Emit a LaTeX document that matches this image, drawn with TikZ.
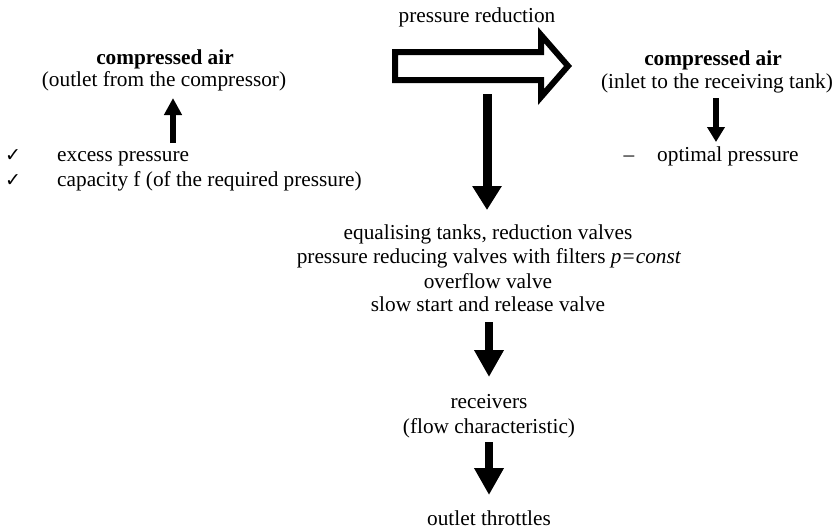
\documentclass[tikz,border=0pt]{standalone}
\usepackage{fontspec}
\setmainfont{Liberation Serif}
\newfontfamily\symfont{DejaVu Sans}
\usetikzlibrary{arrows.meta}
\begin{document}
\begin{tikzpicture}[x=1pt,y=-1pt,
  txt/.style={anchor=base,inner sep=0pt,font=\fontsize{21.3}{24}\selectfont},
  ltxt/.style={txt,anchor=base west},
  blk/.style={line width=#1,draw=black},
  hollow/.style={draw=black,line width=6pt,miter limit=10,fill=white}]
\useasboundingbox (0,0) rectangle (840,530);
% texts
\node[txt] (pr) at (477,23) {pressure reduction};
\node[txt] (lca) at (165,64) {\textbf{compressed air}};
\node[txt] (lout) at (164,86) {(outlet from the compressor)};
\node[txt] (ck1) at (13,161) {\symfont\fontsize{19}{19}\selectfont ✓};
\node[ltxt] (ex) at (57,161) {excess pressure};
\node[txt] (ck2) at (13,186) {\symfont\fontsize{19}{19}\selectfont ✓};
\node[ltxt] (cap) at (57,186) {capacity f (of the required pressure)};
\node[txt] (rca) at (713,65) {\textbf{compressed air}};
\node[txt] (rin) at (717,88) {(inlet to the receiving tank)};
\node[txt] (dsh) at (629,161) {–};
\node[ltxt] (opt) at (657,161) {optimal pressure};
\node[txt] (m1) at (488,239) {equalising tanks, reduction valves};
\node[txt] (m2) at (489,263) {pressure reducing valves with filters \textit{p=const}};
\node[txt] (m3) at (488,288) {overflow valve};
\node[txt] (m4) at (488,311) {slow start and release valve};
\node[txt] (rc1) at (489,408) {receivers};
\node[txt] (rc2) at (489,433) {(flow characteristic)};
\node[txt] (ot) at (489,525) {outlet throttles};
% hollow arrow
\draw[hollow] (395,52) -- (541,52) -- (541,35) -- (568,66) -- (541,97) -- (541,80) -- (395,80) -- cycle;
% arrow coordinates
\coordinate (a1s) at (487,94);  \coordinate (a1e) at (487,210);
\coordinate (a2s) at (489,322); \coordinate (a2e) at (489,377);
\coordinate (a3s) at (489,442); \coordinate (a3e) at (489,495);
\coordinate (las) at (173,143); \coordinate (lae) at (173,98);
\coordinate (ras) at (716,98);  \coordinate (rae) at (716,142);
\draw[blk=9pt,-{Triangle[width=28pt,length=24pt]}] (a1s) -- (a1e);
\draw[blk=8pt,-{Triangle[width=28pt,length=27pt]}] (a2s) -- (a2e);
\draw[blk=8pt,-{Triangle[width=28pt,length=27pt]}] (a3s) -- (a3e);
\draw[blk=6pt,-{Triangle[width=17pt,length=17pt]}] (las) -- (lae);
\draw[blk=6pt,-{Triangle[width=17pt,length=15pt]}] (ras) -- (rae);
\end{tikzpicture}
\end{document}
